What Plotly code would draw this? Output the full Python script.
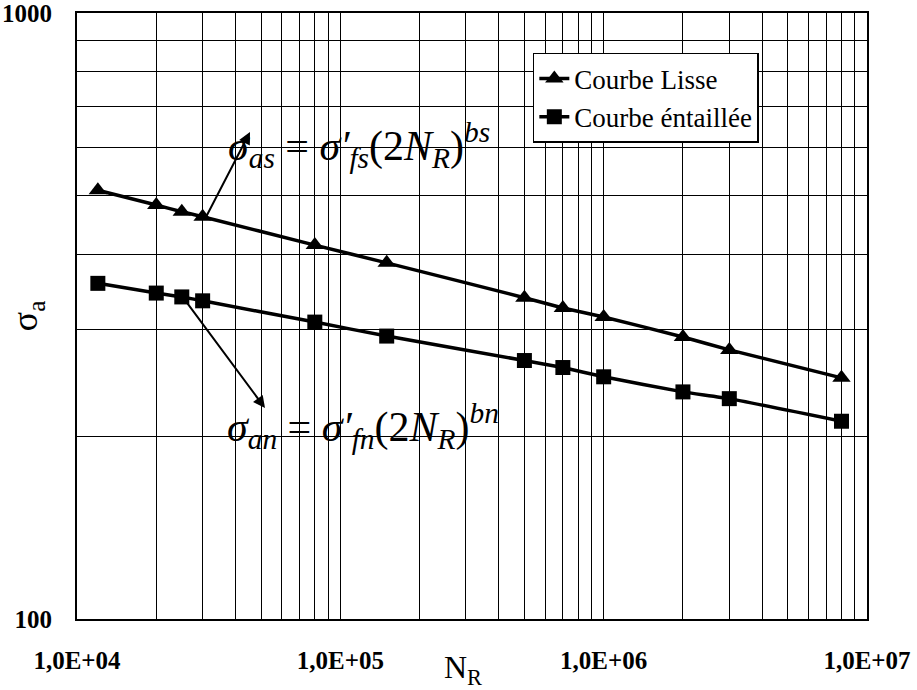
import plotly.graph_objects as go

# Data
cycles = [1.2e4, 2e4, 2.5e4, 3e4, 8e4, 1.5e5, 5e5, 7e5, 1e6, 2e6, 3e6, 8e6]
sigma_lisse = [510, 482, 470, 461, 414, 387, 339, 326, 315, 292, 278, 250]
sigma_entaille = [358, 345, 340, 335, 309, 293, 267, 260, 251, 237, 231, 212]

series_names = ["Courbe Lisse", "Courbe éntaillée"]
x_tick_vals = [1e4, 1e5, 1e6, 1e7]
x_tick_labels = ["1,0E+04", "1,0E+05", "1,0E+06", "1,0E+07"]
y_tick_vals = [100, 1000]
y_tick_labels = ["100", "1000"]

FONT = "Liberation Serif, Times New Roman, serif"

fig = go.Figure()
fig.add_trace(go.Scatter(
    x=cycles, y=sigma_lisse, name=series_names[0], mode="lines+markers",
    line=dict(color="black", width=3.5, shape="spline", smoothing=0.4),
    marker=dict(symbol="triangle-up", size=16, color="black"),
))
fig.add_trace(go.Scatter(
    x=cycles, y=sigma_entaille, name=series_names[1], mode="lines+markers",
    line=dict(color="black", width=3.5, shape="spline", smoothing=0.4),
    marker=dict(symbol="square", size=15, color="black"),
))

# minor grid positions: 2..9 multiples of each decade
x_minor = [m * 10 ** d for d in range(4, 7) for m in range(2, 10)]
y_minor = [m * 100 for m in range(2, 10)]

fig.update_xaxes(
    type="log", range=[4, 7], tickmode="array", tickvals=x_tick_vals, ticktext=x_tick_labels,
    showgrid=True, gridcolor="black", gridwidth=1.2,
    minor=dict(tickmode="array", tickvals=x_minor, showgrid=True, gridcolor="black", gridwidth=1.2, ticks=""),
    showline=True, linecolor="black", linewidth=2, mirror=True,
    ticks="", ticklabelstandoff=18, automargin=False, ticklabeloverflow="allow",
    tickfont=dict(family=FONT, size=25, color="black", weight="bold"),
    zeroline=False,
)
fig.update_yaxes(
    type="log", range=[2, 3], tickmode="array", tickvals=y_tick_vals, ticktext=y_tick_labels,
    showgrid=True, gridcolor="black", gridwidth=1.2,
    minor=dict(tickmode="array", tickvals=y_minor, showgrid=True, gridcolor="black", gridwidth=1.2, ticks=""),
    showline=True, linecolor="black", linewidth=2, mirror=True,
    ticks="", ticklabelstandoff=18, automargin=False, ticklabeloverflow="allow",
    tickfont=dict(family=FONT, size=25, color="black", weight="bold"),
    zeroline=False,
)

eq_font = dict(family=FONT, size=42, color="black")
annotations = [
    # upper equation
    dict(x=5.07, y=2.782, xref="x", yref="y", showarrow=False,
         text="<i>σ</i><sub><i>as</i></sub> = <i>σ′</i><sub><i>fs</i></sub>(2<i>N</i><sub><i>R</i></sub>)<sup><i>bs</i></sup>",
         font=eq_font, xanchor="center", yanchor="middle"),
    # lower equation
    dict(x=5.085, y=2.318, xref="x", yref="y", showarrow=False,
         text="<i>σ</i><sub><i>an</i></sub> = <i>σ′</i><sub><i>fn</i></sub>(2<i>N</i><sub><i>R</i></sub>)<sup><i>bn</i></sup>",
         font=eq_font, xanchor="center", yanchor="middle"),
    # arrows
    dict(x=4.657, y=2.8036, xref="x", yref="y", showarrow=True, text="",
         ax=-44, ay=85, arrowhead=2, arrowsize=1.2, arrowwidth=2, arrowcolor="black"),
    dict(x=4.714, y=2.348, xref="x", yref="y", showarrow=True, text="",
         ax=-80, ay=-108, arrowhead=2, arrowsize=1.2, arrowwidth=2, arrowcolor="black"),
    # axis titles
    dict(x=0.4886, y=-0.083, xref="paper", yref="paper", showarrow=False,
         text="N<sub>R</sub>", font=dict(family=FONT, size=32, color="black"),
         xanchor="center", yanchor="middle"),
    dict(x=-0.063, y=0.5, xref="paper", yref="paper", showarrow=False,
         text="σ<sub>a</sub>", textangle=-90, font=dict(family=FONT, size=36, color="black"),
         xanchor="center", yanchor="middle"),
]

fig.update_layout(
    width=917, height=690,
    margin=dict(l=77, r=50, t=13, b=71),
    plot_bgcolor="white", paper_bgcolor="white",
    showlegend=True,
    legend=dict(x=0.577, y=0.934, xanchor="left", yanchor="top",
                bgcolor="white", bordercolor="black", borderwidth=1.5,
                font=dict(family=FONT, size=27, color="black"),
                itemwidth=30, tracegroupgap=0),
    annotations=annotations,
)

fig.write_html("out.html", config={"displayModeBar": False},
               post_script="document.body.style.margin='0';")
